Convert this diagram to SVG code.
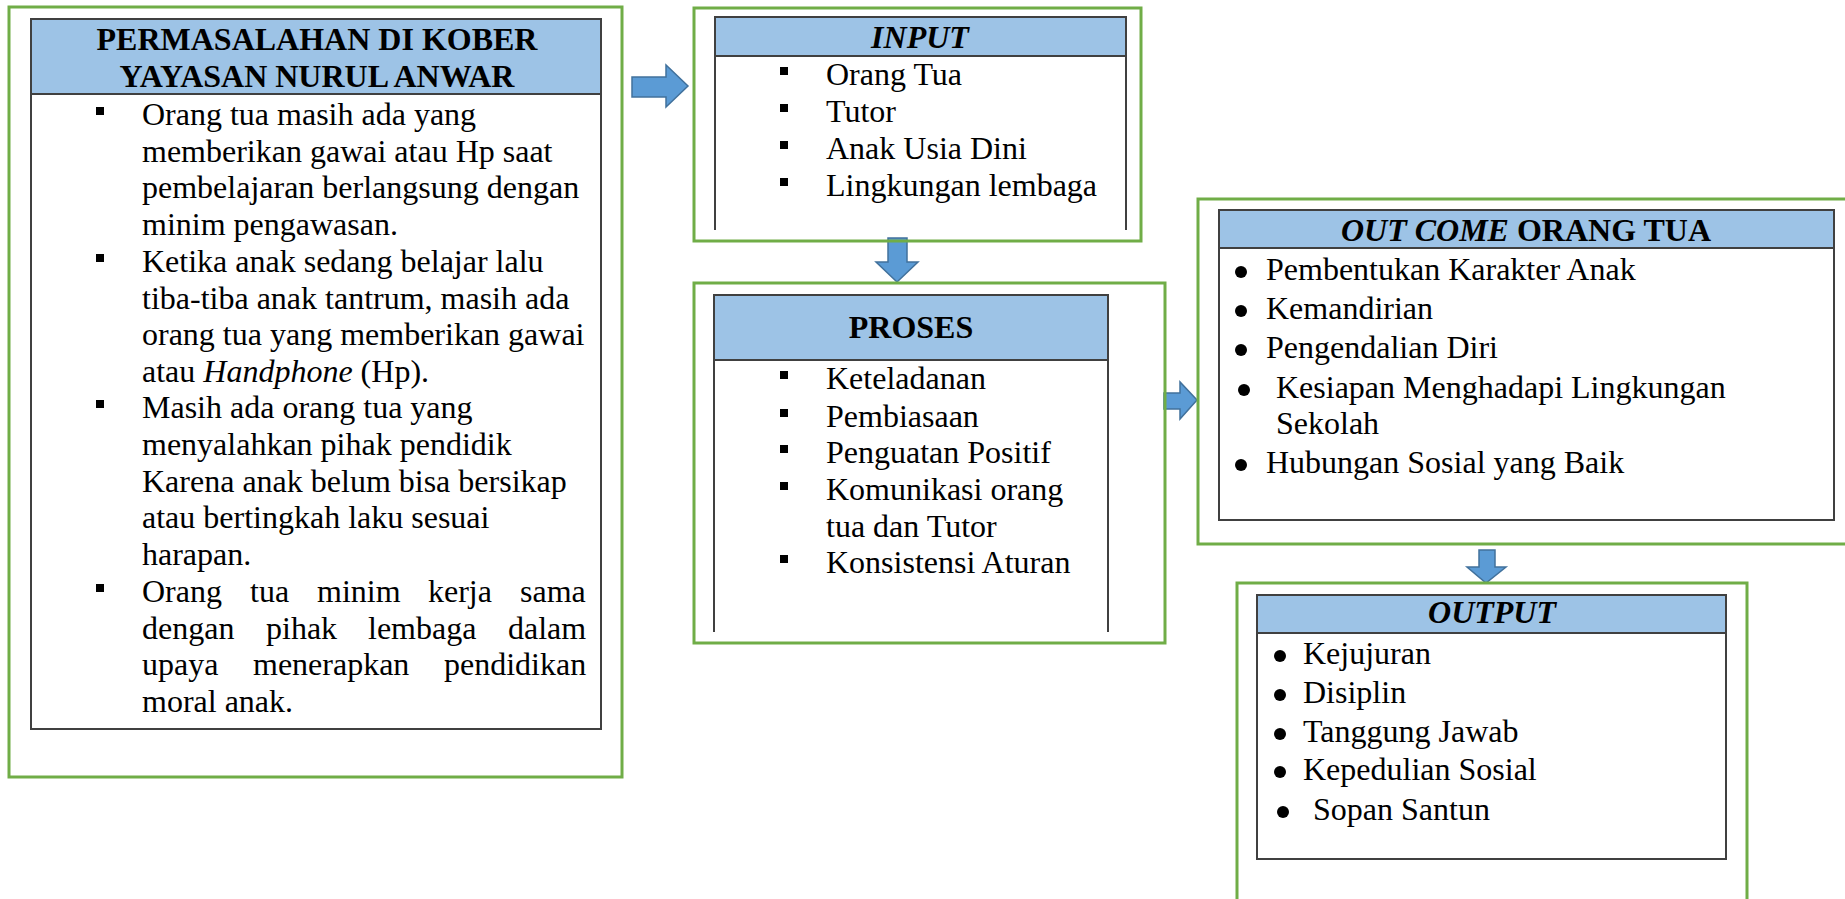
<svg xmlns="http://www.w3.org/2000/svg" width="1845" height="899" viewBox="0 0 1845 899">
<style>
.frame{fill:none;stroke:#70AD47;stroke-width:3}
.box{fill:#fff;stroke:#404040;stroke-width:2}
.hdr{fill:#9DC3E6;stroke:#404040;stroke-width:2}
.side{stroke:#404040;stroke-width:2;fill:none}
.t{font-family:"Liberation Serif","Times New Roman",serif;font-size:32px;fill:#000}
.h{font-weight:bold;text-anchor:middle}
.i{font-style:italic}
.sq{fill:#000}
.arrow{fill:#5B9BD5;stroke:#41719C;stroke-width:1.5;stroke-linejoin:miter}
</style>
<rect x="0" y="0" width="1845" height="899" fill="#fff"/>

<g id="connectors">
<polygon class="arrow" points="632,77 666,77 666,65 688,86 666,107 666,97 632,97"/>
<polygon class="arrow" points="888,238 907,238 907,262 918,262 897,282 876,262 888,262"/>
<polygon class="arrow" points="1164,393 1180,393 1180,382 1197,400 1180,419 1180,409 1164,409"/>
<polygon class="arrow" points="1479,550 1495,550 1495,567 1506,567 1486,583 1467,567 1479,567"/>
</g>

<g id="permasalahan">
<rect class="frame" x="9" y="7" width="613" height="770"/>
<rect class="box" x="31" y="19" width="570" height="710"/>
<rect class="hdr" x="31" y="19" width="570" height="75"/>
<text class="t h" x="317" y="50">PERMASALAHAN DI KOBER</text>
<text class="t h" x="317" y="87">YAYASAN NURUL ANWAR</text>
<rect class="sq" x="96" y="107" width="8" height="8"/>
<rect class="sq" x="96" y="254" width="8" height="8"/>
<rect class="sq" x="96" y="400" width="8" height="8"/>
<rect class="sq" x="96" y="584" width="8" height="8"/>
<text class="t" x="142" y="125">Orang tua masih ada yang</text>
<text class="t" x="142" y="162">memberikan gawai atau Hp saat</text>
<text class="t" x="142" y="198">pembelajaran berlangsung dengan</text>
<text class="t" x="142" y="235">minim pengawasan.</text>
<text class="t" x="142" y="272">Ketika anak sedang belajar lalu</text>
<text class="t" x="142" y="309">tiba-tiba anak tantrum, masih ada</text>
<text class="t" x="142" y="345">orang tua yang memberikan gawai</text>
<text class="t" x="142" y="382">atau <tspan class="i">Handphone</tspan> (Hp).</text>
<text class="t" x="142" y="418">Masih ada orang tua yang</text>
<text class="t" x="142" y="455">menyalahkan pihak pendidik</text>
<text class="t" x="142" y="492">Karena anak belum bisa bersikap</text>
<text class="t" x="142" y="528">atau bertingkah laku sesuai</text>
<text class="t" x="142" y="565">harapan.</text>
<text class="t" y="602"><tspan x="142">Orang</tspan><tspan x="250">tua</tspan><tspan x="317">minim</tspan><tspan x="428">kerja</tspan><tspan x="520">sama</tspan></text>
<text class="t" y="639"><tspan x="142">dengan</tspan><tspan x="266">pihak</tspan><tspan x="368">lembaga</tspan><tspan x="508">dalam</tspan></text>
<text class="t" y="675"><tspan x="142">upaya</tspan><tspan x="253">menerapkan</tspan><tspan x="444">pendidikan</tspan></text>
<text class="t" x="142" y="712">moral anak.</text>
</g>

<g id="input">
<rect class="frame" x="694" y="8" width="447" height="233"/>
<path class="side" d="M715,56 V230 M1126,56 V230"/>
<rect class="hdr" x="715" y="17" width="411" height="39"/>
<text class="t h i" x="920" y="48">INPUT</text>
<rect class="sq" x="780" y="67" width="8" height="8"/>
<rect class="sq" x="780" y="104" width="8" height="8"/>
<rect class="sq" x="780" y="141" width="8" height="8"/>
<rect class="sq" x="780" y="178" width="8" height="8"/>
<text class="t" x="826" y="85">Orang Tua</text>
<text class="t" x="826" y="122">Tutor</text>
<text class="t" x="826" y="159">Anak Usia Dini</text>
<text class="t" x="826" y="196">Lingkungan lembaga</text>
</g>

<g id="proses">
<rect class="frame" x="694" y="283" width="471" height="360"/>
<path class="side" d="M714,360 V632 M1108,360 V632"/>
<rect class="hdr" x="714" y="295" width="394" height="65"/>
<text class="t h" x="911" y="338">PROSES</text>
<rect class="sq" x="780" y="371" width="8" height="8"/>
<rect class="sq" x="780" y="409" width="8" height="8"/>
<rect class="sq" x="780" y="445" width="8" height="8"/>
<rect class="sq" x="780" y="482" width="8" height="8"/>
<rect class="sq" x="780" y="555" width="8" height="8"/>
<text class="t" x="826" y="389">Keteladanan</text>
<text class="t" x="826" y="427">Pembiasaan</text>
<text class="t" x="826" y="463">Penguatan Positif</text>
<text class="t" x="826" y="500">Komunikasi orang</text>
<text class="t" x="826" y="537">tua dan Tutor</text>
<text class="t" x="826" y="573">Konsistensi Aturan</text>
</g>

<g id="outcome">
<rect class="frame" x="1198" y="199" width="660" height="345"/>
<rect class="box" x="1219" y="210" width="615" height="310"/>
<rect class="hdr" x="1219" y="210" width="615" height="38"/>
<text class="t h" x="1526" y="241"><tspan class="i">OUT COME</tspan> ORANG TUA</text>
<circle cx="1241" cy="272" r="6"/>
<circle cx="1241" cy="311" r="6"/>
<circle cx="1241" cy="350" r="6"/>
<circle cx="1244" cy="390" r="6"/>
<circle cx="1241" cy="465" r="6"/>
<text class="t" x="1266" y="280">Pembentukan Karakter Anak</text>
<text class="t" x="1266" y="319">Kemandirian</text>
<text class="t" x="1266" y="358">Pengendalian Diri</text>
<text class="t" x="1276" y="398">Kesiapan Menghadapi Lingkungan</text>
<text class="t" x="1276" y="434">Sekolah</text>
<text class="t" x="1266" y="473">Hubungan Sosial yang Baik</text>
</g>

<g id="output">
<path class="frame" d="M1237,905 V583 H1747 V905"/>
<rect class="box" x="1257" y="595" width="469" height="264"/>
<rect class="hdr" x="1257" y="595" width="469" height="38"/>
<text class="t h i" x="1492" y="623">OUTPUT</text>
<circle cx="1280" cy="656" r="6"/>
<circle cx="1280" cy="695" r="6"/>
<circle cx="1280" cy="734" r="6"/>
<circle cx="1280" cy="772" r="6"/>
<circle cx="1283" cy="812" r="6"/>
<text class="t" x="1303" y="664">Kejujuran</text>
<text class="t" x="1303" y="703">Disiplin</text>
<text class="t" x="1303" y="742">Tanggung Jawab</text>
<text class="t" x="1303" y="780">Kepedulian Sosial</text>
<text class="t" x="1313" y="820">Sopan Santun</text>
</g>
</svg>
